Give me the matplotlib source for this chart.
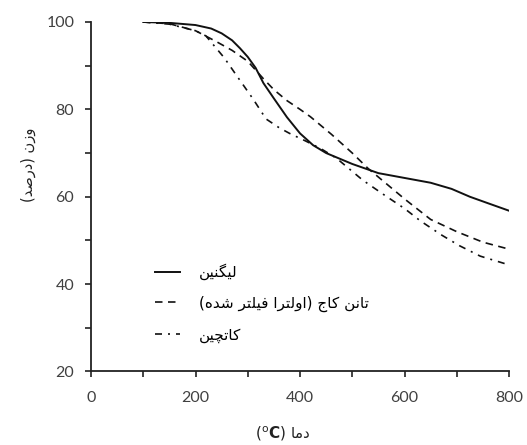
import matplotlib
matplotlib.use('Agg')
import matplotlib.pyplot as plt
from matplotlib.ticker import MultipleLocator

# temperature (C) / weight (%)
lignin_t = [100, 150, 200, 230, 250, 270, 285, 300, 315, 330, 350, 375, 400, 425,
            450, 500, 550, 600, 650, 690, 725, 760, 800]
lignin_w = [100, 99.8, 99.3, 98.5, 97.4, 95.8, 94.0, 92.0, 89.5, 86.0, 82.5, 78.2,
            74.5, 71.8, 70.0, 67.5, 65.4, 64.3, 63.2, 61.8, 60.0, 58.5, 56.8]

tannin_t = [100, 150, 200, 240, 270, 300, 330, 350, 375, 400, 420, 460, 500, 530,
            560, 600, 650, 700, 750, 800]
tannin_w = [100, 99.6, 98.0, 95.5, 93.5, 91.0, 87.0, 84.5, 82.0, 80.0, 78.3, 74.3,
            70.0, 66.5, 63.5, 59.5, 54.8, 52.0, 49.6, 48.0]

catechin_t = [100, 150, 200, 220, 255, 280, 310, 335, 360, 380, 410, 440, 470, 490,
              520, 560, 600, 630, 670, 705, 745, 800]
catechin_w = [100, 99.5, 98.0, 96.8, 91.8, 87.5, 82.4, 77.8, 75.8, 74.5, 72.8, 71.0,
              68.8, 66.8, 63.8, 60.5, 57.3, 54.5, 51.3, 48.8, 46.4, 44.4]

labels = ['لیگنین', 'تانن کاج (اولترا فیلتر شده)', 'کاتچین']
xlabel = 'دما'
ylabel = 'وزن (درصد)'

# matplotlib has no arabic shaping, so pick presentation forms by hand
# (iso, fin, init, med); right-joining letters have no init/med
FORMS = {
    'ا': (0xFE8D, 0xFE8E, None, None),
    'د': (0xFEA9, 0xFEAA, None, None),
    'ر': (0xFEAD, 0xFEAE, None, None),
    'ز': (0xFEAF, 0xFEB0, None, None),
    'و': (0xFEED, 0xFEEE, None, None),
    'ت': (0xFE95, 0xFE96, 0xFE97, 0xFE98),
    'ج': (0xFE9D, 0xFE9E, 0xFE9F, 0xFEA0),
    'ش': (0xFEB5, 0xFEB6, 0xFEB7, 0xFEB8),
    'ص': (0xFEB9, 0xFEBA, 0xFEBB, 0xFEBC),
    'ف': (0xFED1, 0xFED2, 0xFED3, 0xFED4),
    'ل': (0xFEDD, 0xFEDE, 0xFEDF, 0xFEE0),
    'م': (0xFEE1, 0xFEE2, 0xFEE3, 0xFEE4),
    'ن': (0xFEE5, 0xFEE6, 0xFEE7, 0xFEE8),
    'ه': (0xFEE9, 0xFEEA, 0xFEEB, 0xFEEC),
    'ی': (0xFBFC, 0xFBFD, 0xFBFE, 0xFBFF),
    'ک': (0xFB8E, 0xFB8F, 0xFB90, 0xFB91),
    'گ': (0xFB92, 0xFB93, 0xFB94, 0xFB95),
    'چ': (0xFB7A, 0xFB7B, 0xFB7C, 0xFB7D),
}
MIRROR = {'(': ')', ')': '('}


def shape(s):
    out = []
    for i, c in enumerate(s):
        if c not in FORMS:
            out.append(MIRROR.get(c, c))
            continue
        prev = s[i - 1] if i > 0 else ''
        nxt = s[i + 1] if i + 1 < len(s) else ''
        jp = prev in FORMS and FORMS[prev][2] is not None
        jn = FORMS[c][2] is not None and nxt in FORMS
        iso, fin, ini, med = FORMS[c]
        if jp and jn:
            out.append(chr(med))
        elif jp:
            out.append(chr(fin))
        elif jn:
            out.append(chr(ini))
        else:
            out.append(chr(iso))
    return ''.join(reversed(out))


plt.rcParams['font.family'] = ['Lato', 'DejaVu Sans']

fig = plt.figure(figsize=(5.27, 4.45), dpi=100)
ax = fig.add_axes([0.1727, 0.1652, 0.7932, 0.7854])

ax.plot(lignin_t, lignin_w, color='#111111', lw=1.4, label=shape(labels[0]))
ax.plot(tannin_t, tannin_w, color='#111111', lw=1.2, dashes=(4.5, 3.3),
        label=shape(labels[1]))
ax.plot(catechin_t, catechin_w, color='#111111', lw=1.2, dashes=(4.2, 3.6, 1.2, 3.6),
        label=shape(labels[2]))

ax.set_xlim(0, 800)
ax.set_ylim(20, 100)
ax.xaxis.set_major_locator(MultipleLocator(200))
ax.xaxis.set_minor_locator(MultipleLocator(100))
ax.yaxis.set_major_locator(MultipleLocator(20))
ax.yaxis.set_minor_locator(MultipleLocator(10))

for s in ['top', 'right']:
    ax.spines[s].set_visible(False)
for s in ['left', 'bottom']:
    ax.spines[s].set_linewidth(1.3)
    ax.spines[s].set_color('#222222')

ax.tick_params(which='both', direction='out', length=4, width=1.2, color='#222222')
ax.tick_params(axis='y', which='major', pad=8, labelsize=11.5, labelcolor='#404040')
ax.tick_params(axis='x', which='major', pad=10, labelsize=11.5, labelcolor='#404040')

fig.text(28 / 527, 1 - 165 / 445, shape(ylabel), rotation=90, ha='center', va='center',
         fontsize=10.5, family='DejaVu Sans', color='#222222')
fig.text(283 / 527, 1 - 434 / 445,
         r'($^{\rm o}\mathbf{C}$) ' + shape(xlabel), ha='center', va='center',
         fontsize=11, family='DejaVu Sans', color='#222222')

ax.legend(loc='upper left', bbox_to_anchor=(0.135, 0.33), frameon=False,
          handlelength=1.65, handletextpad=1.2, labelspacing=1.0, borderpad=0,
          prop={'family': 'DejaVu Sans', 'size': 11})

fig.savefig('out.png', dpi=100)
